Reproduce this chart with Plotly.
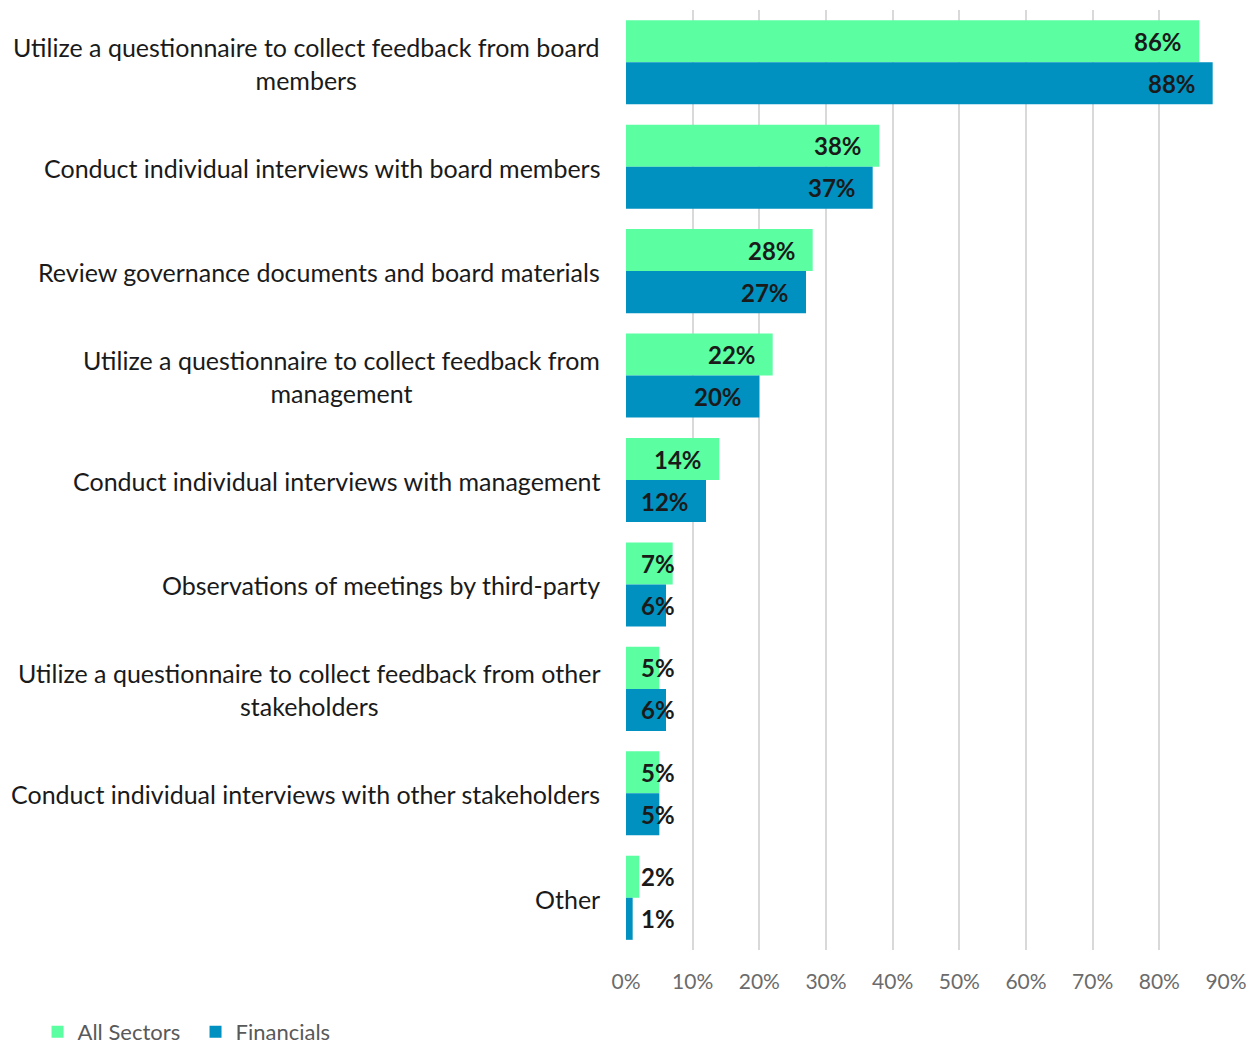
import plotly.graph_objects as go

categories = [
    "Utilize a questionnaire to collect feedback from board<br>members",
    "Conduct individual interviews with board members",
    "Review governance documents and board materials",
    "Utilize a questionnaire to collect feedback from<br>management",
    "Conduct individual interviews with management",
    "Observations of meetings by third-party",
    "Utilize a questionnaire to collect feedback from other<br>stakeholders",
    "Conduct individual interviews with other stakeholders",
    "Other",
]
all_sectors = [0.86, 0.38, 0.28, 0.22, 0.14, 0.07, 0.05, 0.05, 0.02]
financials = [0.88, 0.37, 0.27, 0.20, 0.12, 0.06, 0.06, 0.05, 0.01]
x_ticks = [0, 0.1, 0.2, 0.3, 0.4, 0.5, 0.6, 0.7, 0.8, 0.9]
x_tick_labels = ["0%", "10%", "20%", "30%", "40%", "50%", "60%", "70%", "80%", "90%"]

GREEN = "#5BFFA2"
BLUE = "#0091C0"
FONT = "Lato"

fig = go.Figure()
fig.add_trace(go.Bar(y=categories, x=all_sectors, orientation="h", name="All Sectors",
                     marker=dict(color=GREEN, line=dict(width=0))))
fig.add_trace(go.Bar(y=categories, x=financials, orientation="h", name="Financials",
                     marker=dict(color=BLUE, line=dict(width=0))))

annotations = []
# category labels, centred multi-line, right-aligned block
for c in categories:
    annotations.append(dict(x=0, xref="paper", y=c, yref="y", text=c, showarrow=False,
                            xanchor="right", yanchor="middle", align="center", xshift=-24,
                            yshift=-1,
                            font=dict(family=FONT, size=25, color="#1a1a1a")))

# data labels
for idx, vals in enumerate([all_sectors, financials]):
    for c, v in zip(categories, vals):
        lab = f"{round(v*100)}%"
        if v < 0.08:
            ax, anc, sh = 0, "left", 13
        else:
            ax, anc, sh = v, "right", -15
        annotations.append(dict(x=ax, y=c, xref="x", yref="y", text=f"<b>{lab}</b>",
                                showarrow=False, xanchor=anc, yanchor="middle", xshift=sh,
                                yshift=(21 if idx == 0 else -21),
                                font=dict(family=FONT, size=24, color="#1a1a1a")))

fig.update_layout(
    width=1251, height=1053,
    margin=dict(l=626, r=25, t=10, b=103, autoexpand=False),
    barmode="group", bargap=0.195, bargroupgap=0,
    plot_bgcolor="white", paper_bgcolor="white",
    font=dict(family=FONT, color="#595959"),
    showlegend=True,
    legend=dict(orientation="h", xref="container", yref="container",
                x=0.03, xanchor="left", y=0.0, yanchor="bottom",
                font=dict(family=FONT, size=22, color="#595959"), itemwidth=30,
                entrywidth=113, traceorder="normal"),
    annotations=annotations,
)
fig.update_xaxes(range=[0, 0.9], tickvals=x_ticks, ticktext=x_tick_labels,
                 showgrid=True, gridcolor="#d9d9d9", gridwidth=2, zeroline=False,
                 showline=False, ticks="", ticklabelstandoff=17,
                 tickfont=dict(family=FONT, size=21, color="#6b6b6b"))
fig.update_yaxes(autorange="reversed", showticklabels=False, showgrid=False,
                 zeroline=False, showline=False, ticks="")

fig.write_html("out.html")
